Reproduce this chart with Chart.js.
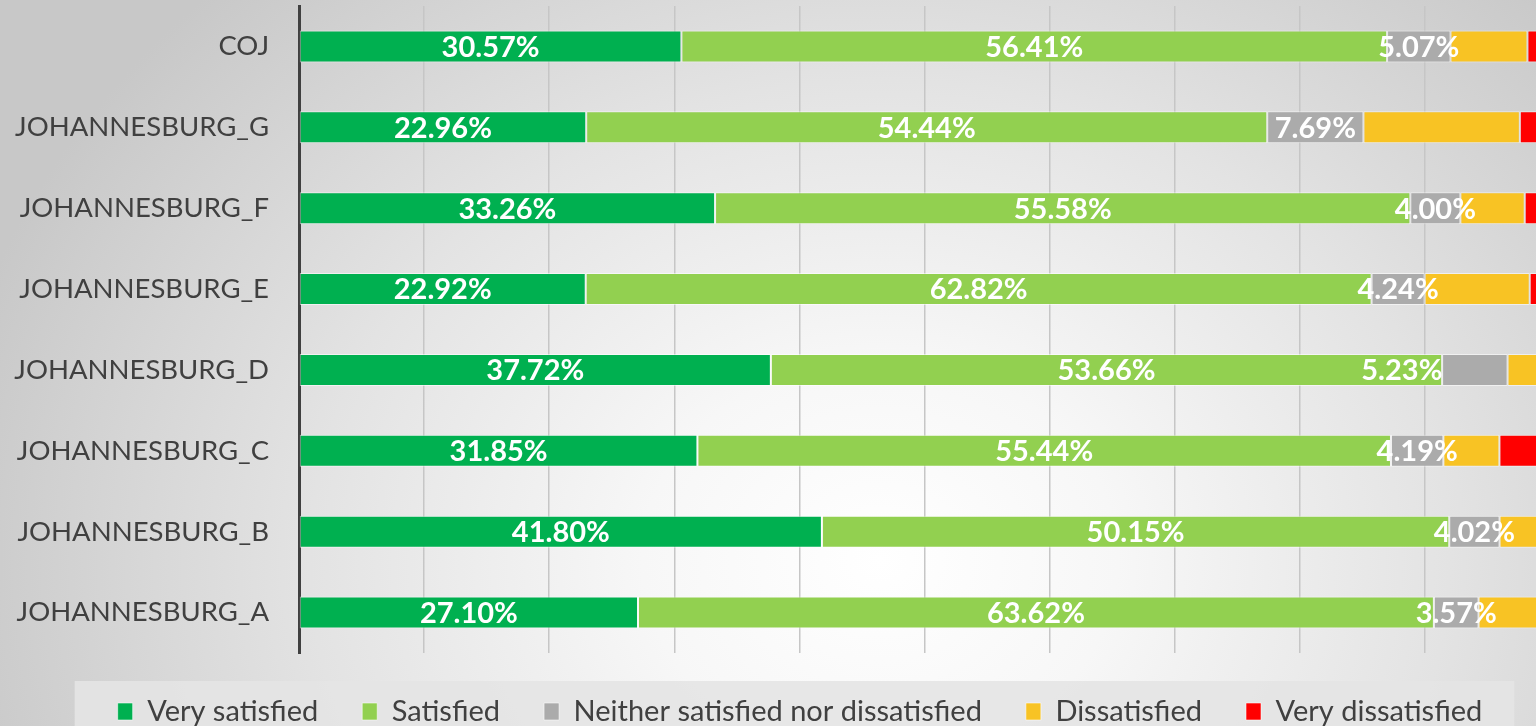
<!DOCTYPE html>
<html>
<head>
<meta charset="utf-8">
<title>Satisfaction by region</title>
<script src="https://cdn.jsdelivr.net/npm/chart.js@4.4.1/dist/chart.umd.min.js"></script>
<style>
  html, body { margin: 0; padding: 0; width: 1536px; height: 726px; overflow: hidden; }
  body {
    background: radial-gradient(ellipse 950px 800px at 880px 560px,
      #ffffff 0%, #f7f7f7 25%, #e3e3e3 60%, #c8c8c8 100%);
  }
  #wrap { width: 1600px; height: 745px; }
</style>
</head>
<body>
<div id="wrap"><canvas id="chart" width="1600" height="745"></canvas></div>
<script>
// data (percent of respondents)
const categories = ['COJ', 'JOHANNESBURG_G', 'JOHANNESBURG_F', 'JOHANNESBURG_E',
  'JOHANNESBURG_D', 'JOHANNESBURG_C', 'JOHANNESBURG_B', 'JOHANNESBURG_A'];
const verySatisfied    = [30.57, 22.96, 33.26, 22.92, 37.72, 31.85, 41.80, 27.10];
const satisfied        = [56.41, 54.44, 55.58, 62.82, 53.66, 55.44, 50.15, 63.62];
const neither          = [5.07, 7.69, 4.00, 4.24, 5.23, 4.19, 4.02, 3.57];
const dissatisfied     = [6.15, 12.50, 5.14, 8.40, 2.50, 4.48, 3.20, 4.90];
const veryDissatisfied = [1.80, 2.41, 2.02, 1.62, 0.89, 4.04, 0.83, 0.81];
const seriesNames = ['Very satisfied', 'Satisfied', 'Neither satisfied nor dissatisfied',
  'Dissatisfied', 'Very dissatisfied'];

const FONT = 'Lato';
const TEXT = '#404040';

// the 5.23% label sits left of its segment in the original
const labelNudge = { '2-4': -73 };

// white percentage labels on the first three segments
const segLabels = {
  id: 'segLabels',
  afterDatasetsDraw(chart) {
    const ctx = chart.ctx;
    ctx.save();
    ctx.font = 'bold 29px ' + FONT;
    ctx.fillStyle = '#ffffff';
    ctx.textAlign = 'center';
    ctx.textBaseline = 'middle';
    chart.data.datasets.forEach((ds, di) => {
      if (!ds.showLabels) return;
      chart.getDatasetMeta(di).data.forEach((bar, i) => {
        const cx = (bar.x + bar.base) / 2 + (labelNudge[di + '-' + i] || 0);
        ctx.fillText(ds.data[i].toFixed(2) + '%', cx, bar.y + 1);
      });
    });
    ctx.restore();
  }
};

// light panel behind the legend
const legendPanel = {
  id: 'legendPanel',
  beforeDraw(chart) {
    const boxes = chart.legend && chart.legend.legendHitBoxes;
    if (!boxes || !boxes.length) return;
    const first = boxes[0], last = boxes[boxes.length - 1];
    const left = first.left - 43;
    const right = last.left + last.width + 32;
    const top = first.top - 16;
    const ctx = chart.ctx;
    ctx.save();
    ctx.fillStyle = 'rgba(228,228,228,0.9)';
    ctx.fillRect(left, top, right - left, chart.height - top);
    ctx.restore();
  }
};

const colors = ['#00B050', '#92D050', '#ABABAB', '#F8C324', '#FF0000'];
const values = [verySatisfied, satisfied, neither, dissatisfied, veryDissatisfied];

const datasets = values.map((vals, k) => ({
  label: seriesNames[k],
  data: vals,
  backgroundColor: colors[k],
  borderColor: 'rgba(255,255,255,0.55)',
  borderWidth: 1,
  borderSkipped: false,
  showLabels: k < 3
}));

new Chart(document.getElementById('chart'), {
  type: 'bar',
  data: { labels: categories, datasets: datasets },
  plugins: [legendPanel, segLabels],
  options: {
    indexAxis: 'y',
    responsive: false,
    animation: false,
    categoryPercentage: 1,
    barPercentage: 0.395,
    layout: { padding: { top: 6, right: 0, bottom: 9, left: 0 } },
    scales: {
      x: {
        stacked: true,
        min: 0,
        max: 104,   // 100% lands just past the visible right edge, as in the original
        ticks: { display: false, stepSize: 10 },
        grid: { color: '#c6c6c6', lineWidth: 1.5, drawTicks: false },
        border: { display: false }
      },
      y: {
        stacked: true,
        afterFit(scale) {
          scale.width = 299;
          scale.paddingTop = 0;
          scale.paddingBottom = 0;
        },
        ticks: { color: TEXT, font: { family: FONT, size: 27.5 }, padding: 30 },
        grid: { display: false, drawTicks: false },
        border: { display: true, color: '#404040', width: 3 }
      }
    },
    plugins: {
      legend: {
        position: 'bottom',
        labels: {
          color: TEXT,
          font: { family: FONT, size: 29 },
          boxWidth: 15,
          boxHeight: 17,
          padding: 44
        }
      },
      tooltip: { enabled: false }
    }
  }
});
</script>
</body>
</html>
